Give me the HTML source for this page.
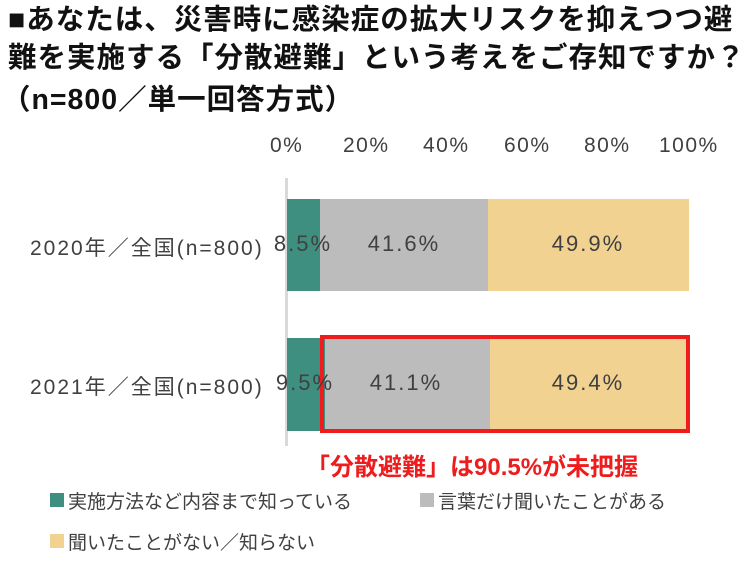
<!DOCTYPE html>
<html><head><meta charset="utf-8"><style>
body{margin:0;width:750px;height:575px;background:#fff;position:relative;overflow:hidden;font-family:"Liberation Sans","Noto Sans CJK JP",sans-serif;}
.t{position:absolute;white-space:nowrap;}
.title{font-weight:bold;font-size:28.5px;color:#111;left:8px;line-height:38px;letter-spacing:1px;}
.ax{font-size:21px;color:#404040;top:134px;letter-spacing:1.5px;}
.bar{position:absolute;}
.v{position:absolute;font-size:22px;color:#404040;text-align:center;letter-spacing:2px;}
.lab{font-size:21px;color:#404040;letter-spacing:2px;}
.leg{font-size:19px;color:#404040;}
.sq{position:absolute;width:14px;height:14px;}
</style></head><body>
<div class="t title" style="top:1px;">■あなたは、災害時に感染症の拡大リスクを抑えつつ避</div>
<div class="t title" style="top:39px;">難を実施する「分散避難」という考えをご存知ですか？</div>
<div class="t title" style="top:81px;left:2px;">（n=800／単一回答方式）</div>

<div class="t ax" style="left:270px;">0%</div>
<div class="t ax" style="left:343px;">20%</div>
<div class="t ax" style="left:423px;">40%</div>
<div class="t ax" style="left:504px;">60%</div>
<div class="t ax" style="left:584px;">80%</div>
<div class="t ax" style="left:659px;">100%</div>

<div class="bar" style="left:285px;top:178px;width:3px;height:268px;background:#d9d9d9"></div>

<div class="bar" style="left:287px;top:199px;width:33px;height:92px;background:#3f8f81"></div>
<div class="bar" style="left:320px;top:199px;width:168px;height:92px;background:#bcbcbc"></div>
<div class="bar" style="left:488px;top:199px;width:201px;height:92px;background:#f2d291"></div>
<div class="bar" style="left:287px;top:338px;width:38px;height:93px;background:#3f8f81"></div>
<div class="bar" style="left:325px;top:338px;width:165px;height:93px;background:#bcbcbc"></div>
<div class="bar" style="left:490px;top:338px;width:199px;height:93px;background:#f2d291"></div>
<div class="bar" style="left:320px;top:335px;width:362px;height:90px;border:4px solid #ee1c1c"></div>

<div class="t lab" style="left:30px;top:232px;">2020年／全国(n=800)</div>
<div class="t lab" style="left:30px;top:371px;">2021年／全国(n=800)</div>

<div class="v" style="left:258px;top:231px;width:90px;">8.5%</div>
<div class="v" style="left:359px;top:231px;width:90px;">41.6%</div>
<div class="v" style="left:543px;top:231px;width:90px;">49.9%</div>
<div class="v" style="left:260px;top:370px;width:90px;">9.5%</div>
<div class="v" style="left:361px;top:370px;width:90px;">41.1%</div>
<div class="v" style="left:543px;top:370px;width:90px;">49.4%</div>

<div class="t" style="left:306px;top:447px;font-size:24px;font-weight:bold;color:#ee1c1c;">「分散避難」は90.5%が未把握</div>

<div class="sq" style="left:50px;top:493px;background:#3f8f81"></div>
<div class="t leg" style="left:68px;top:487px;">実施方法など内容まで知っている</div>
<div class="sq" style="left:420px;top:493px;background:#bcbcbc"></div>
<div class="t leg" style="left:438px;top:487px;">言葉だけ聞いたことがある</div>
<div class="sq" style="left:50px;top:534px;background:#f2d291"></div>
<div class="t leg" style="left:68px;top:528px;">聞いたことがない／知らない</div>
</body></html>
